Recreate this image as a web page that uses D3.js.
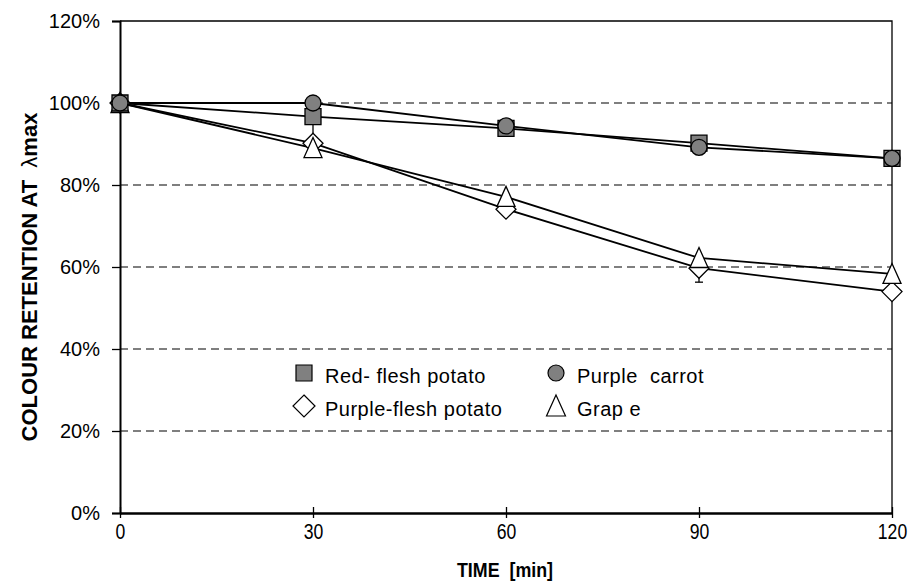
<!DOCTYPE html>
<html>
<head>
<meta charset="utf-8">
<script src="https://cdn.jsdelivr.net/npm/d3@7"></script>
<style>
  body { margin: 0; background: #fff; }
  text { font-family: "Liberation Sans", Arial, Helvetica, sans-serif; fill: #000; }
</style>
</head>
<body>
<svg></svg>
<script>
// time points (min) and colour retention (%) per sample
const times = [0, 30, 60, 90, 120];
const redFleshPotato = [100, 96.7, 93.8, 90.2, 86.5];
const purpleCarrot = [100, 100, 94.4, 89.2, 86.5];
const purpleFleshPotato = [100, 90.2, 74.1, 59.7, 54.0];
const grape = [100, 89.0, 77.1, 62.2, 58.3];
// error bars seen on purple-flesh potato (+ / -)
const purpleFleshErrPlus = [0, 5.3, 0, 3.0, 0];
const purpleFleshErrMinus = [0, 2.5, 0, 3.4, 0];

const yTicks = [0, 20, 40, 60, 80, 100, 120];
const xTicks = [0, 30, 60, 90, 120];

const svgWidth = 912;
const svgHeight = 583;

const svg = d3
  .select("svg")
  .attr("width", svgWidth)
  .attr("height", svgHeight);

const xScale = d3.scaleLinear().domain([0, 120]).range([120, 892]);
const yScale = d3.scaleLinear().domain([0, 120]).range([513, 21]);

// dashed grid
svg
  .append("g")
  .selectAll("line")
  .data(yTicks.filter(d => d > 0 && d < 120))
  .enter()
  .append("line")
  .attr("x1", xScale(0))
  .attr("x2", xScale(120))
  .attr("y1", d => yScale(d))
  .attr("y2", d => yScale(d))
  .attr("stroke", "#555")
  .attr("stroke-width", 1.3)
  .attr("stroke-dasharray", "8,5");

// top and right border
svg
  .append("path")
  .attr("d", `M${xScale(0)},${yScale(120)}H${xScale(120)}V${yScale(0)}`)
  .attr("fill", "none")
  .attr("stroke", "#000")
  .attr("stroke-width", 1.3);

const y_axis = d3
  .axisLeft(yScale)
  .tickValues(yTicks)
  .tickSize(8)
  .tickPadding(12)
  .tickFormat(d => d + "%");

const yG = svg
  .append("g")
  .attr("transform", "translate(" + xScale(0) + ",0)")
  .call(y_axis);
yG.select(".domain").attr("stroke-width", 2);
yG.selectAll(".tick line").attr("stroke-width", 1.3);
yG.selectAll("text").style("font-size", "20px").attr("fill", "#000");

const x_axis = d3
  .axisBottom(xScale)
  .tickValues(xTicks)
  .tickSizeInner(5)
  .tickSizeOuter(0)
  .tickPadding(10);

const xG = svg
  .append("g")
  .attr("transform", "translate(0," + yScale(0) + ")")
  .call(x_axis);
xG.select(".domain").attr("stroke-width", 2.4);
xG.selectAll(".tick line").attr("y1", -6).attr("y2", 5).attr("stroke-width", 1.3);
xG.selectAll("text")
  .style("font-size", "22px")
  .attr("fill", "#000")
  .attr("transform", "scale(0.8,1)")
  .attr("y", 10)
  .attr("x", 0);

// axis titles
svg
  .append("text")
  .attr("x", 505)
  .attr("y", 577)
  .attr("text-anchor", "middle")
  .style("font-size", "21px")
  .style("font-weight", "bold")
  .attr("transform", "translate(505,0) scale(0.85,1) translate(-505,0)")
  .style("white-space", "pre")
  .text("TIME  [min]");

const yTitle = svg
  .append("text")
  .attr("transform", "translate(37,277) rotate(-90)")
  .attr("text-anchor", "middle")
  .style("font-size", "22px")
  .style("font-weight", "bold")
  .style("white-space", "pre");
yTitle.append("tspan").text("COLOUR RETENTION AT  ");
yTitle.append("tspan").style("font-weight", "normal").text("λ");
yTitle.append("tspan").text("max");

const series = [
  { name: "Red- flesh potato", values: redFleshPotato, symbol: "square", fill: "#808080" },
  { name: "Purple  carrot", values: purpleCarrot, symbol: "circle", fill: "#808080" },
  { name: "Purple-flesh potato", values: purpleFleshPotato, symbol: "diamond", fill: "#fff" },
  { name: "Grap e", values: grape, symbol: "triangle", fill: "#fff" }
];

function markerPath(type, s) {
  if (type === "square") return d3.symbol(d3.symbolSquare, s * s)();
  if (type === "circle") return d3.symbol(d3.symbolCircle, Math.PI * (s / 2) * (s / 2))();
  if (type === "diamond") {
    const h = s / 2 + 2;
    return `M0,${-h}L${h},0L0,${h}L${-h},0Z`;
  }
  const w = s / 2 + 1;
  return `M0,${-s / 2 - 2.5}L${w},${s / 2 + 1.5}L${-w},${s / 2 + 1.5}Z`;
}

const line = d3
  .line()
  .x((d, i) => xScale(times[i]))
  .y(d => yScale(d));

svg
  .append("g")
  .selectAll("path")
  .data(series)
  .enter()
  .append("path")
  .attr("d", d => line(d.values))
  .attr("fill", "none")
  .attr("stroke", "#000")
  .attr("stroke-width", 1.8);

// error bars on purple-flesh potato
const errG = svg.append("g").attr("stroke", "#000").attr("stroke-width", 1.3);
times.forEach((t, i) => {
  const up = purpleFleshErrPlus[i];
  const dn = purpleFleshErrMinus[i];
  if (!up && !dn) return;
  const v = purpleFleshPotato[i];
  const x = xScale(t);
  errG.append("line").attr("x1", x).attr("x2", x).attr("y1", yScale(v - dn)).attr("y2", yScale(v + up));
  errG.append("line").attr("x1", x - 4).attr("x2", x + 4).attr("y1", yScale(v - dn)).attr("y2", yScale(v - dn));
  errG.append("line").attr("x1", x - 4).attr("x2", x + 4).attr("y1", yScale(v + up)).attr("y2", yScale(v + up));
});

// markers: open ones first, filled ones on top
[series[2], series[3], series[0], series[1]].forEach(s => {
  svg
    .append("g")
    .selectAll("path")
    .data(s.values)
    .enter()
    .append("path")
    .attr("d", markerPath(s.symbol, 16))
    .attr("transform", (d, i) => "translate(" + xScale(times[i]) + "," + yScale(d) + ")")
    .attr("fill", s.fill)
    .attr("stroke", "#000")
    .attr("stroke-width", 1.3);
});

// legend
const legendPos = [
  { x: 304, y: 373, size: 16 },
  { x: 556, y: 373, size: 16 },
  { x: 304, y: 406, size: 18 },
  { x: 556, y: 406, size: 17 }
];

series.forEach((s, i) => {
  const p = legendPos[i];
  svg
    .append("path")
    .attr("d", markerPath(s.symbol, p.size))
    .attr("transform", "translate(" + p.x + "," + p.y + ")")
    .attr("fill", s.fill)
    .attr("stroke", "#000")
    .attr("stroke-width", 1.2);
  svg
    .append("text")
    .attr("x", p.x + 21)
    .attr("y", p.y + 4)
    .attr("dy", "0.32em")
    .style("font-size", "20px")
    .style("letter-spacing", "0.5px")
    .style("white-space", "pre")
    .text(s.name);
});
</script>
</body>
</html>
